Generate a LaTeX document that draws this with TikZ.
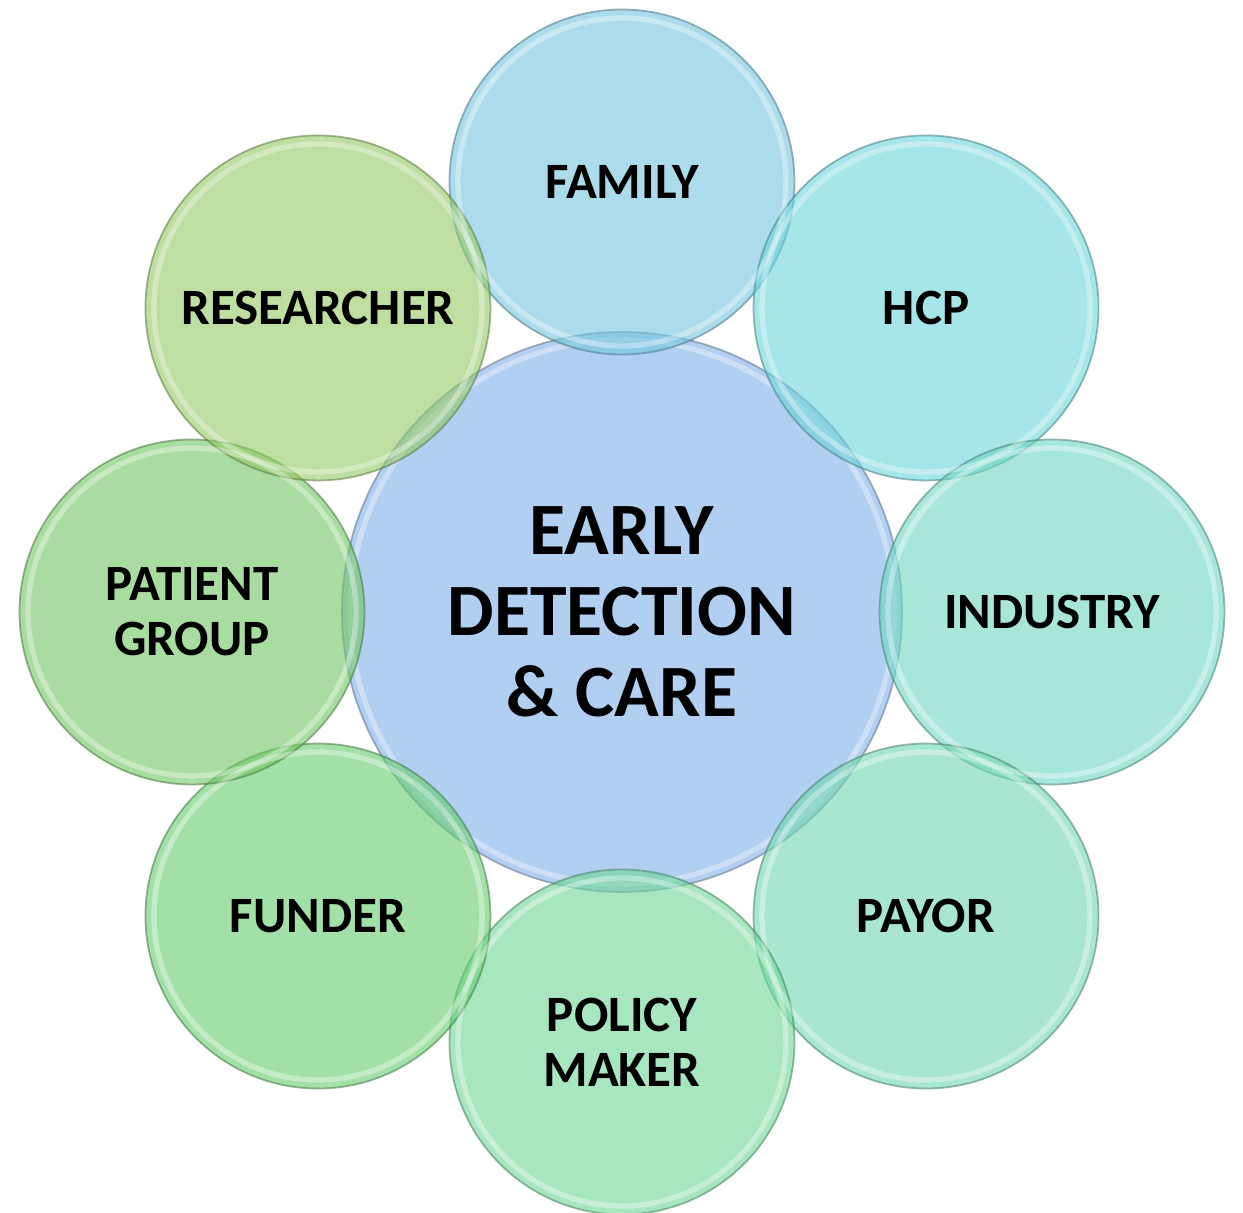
\documentclass[tikz,border=0pt]{standalone}
\usepackage{fontspec}
\setmainfont{Carlito}
\usepackage{xcolor}

\definecolor{hubblue}{RGB}{177,207,240}
\definecolor{famblue}{RGB}{117,197,223}
\definecolor{hcpcyan}{RGB}{107,211,217}
\definecolor{indteal}{RGB}{110,214,194}
\definecolor{paygreen}{RGB}{112,214,175}
\definecolor{polgreen}{RGB}{110,214,150}
\definecolor{fungreen}{RGB}{102,204,110}
\definecolor{patgreen}{RGB}{112,197,97}
\definecolor{resgreen}{RGB}{148,200,100}

\begin{document}
\begin{tikzpicture}[
        ring/.style={circle,minimum size=3.45cm,inner sep=0pt,align=center,
            fill opacity=0.6,text opacity=1,draw opacity=0.55,line width=0.5pt,
            font=\fontsize{14.5}{15.6}\selectfont\bfseries},
        hubring/.style={circle,minimum size=5.6cm,inner sep=0pt,align=center,
            fill=hubblue,draw=hubblue!60!black,draw opacity=0.6,line width=0.5pt,
            font=\fontsize{21}{23}\selectfont\bfseries},
        gloss/.style={white,opacity=0.35,line width=1.5pt}
    ]
        \useasboundingbox (-6.22,-6.01) rectangle (6.21,6.12);

        \node[hubring] (hub) at (0,0) {EARLY\\DETECTION\\\& CARE};
        \draw[gloss] (hub.center) circle (2.72);

        \node[ring,fill=famblue,draw=famblue!60!black]   (family)     at (90:4.30)  {FAMILY};
        \node[ring,fill=hcpcyan,draw=hcpcyan!60!black]   (hcp)        at (45:4.30)  {HCP};
        \node[ring,fill=indteal,draw=indteal!60!black]   (industry)   at (0:4.30)   {INDUSTRY};
        \node[ring,fill=paygreen,draw=paygreen!60!black] (payor)      at (-45:4.30) {PAYOR};
        \node[ring,fill=polgreen,draw=polgreen!60!black] (policy)     at (-90:4.30) {POLICY\\MAKER};
        \node[ring,fill=fungreen,draw=fungreen!60!black] (funder)     at (-135:4.30){FUNDER};
        \node[ring,fill=patgreen,draw=patgreen!60!black] (patient)    at (180:4.30) {PATIENT\\GROUP};
        \node[ring,fill=resgreen,draw=resgreen!60!black] (researcher) at (135:4.30) {RESEARCHER};

        \foreach \n in {family,hcp,industry,payor,policy,funder,patient,researcher}
            \draw[gloss] (\n.center) circle (1.64);
    \end{tikzpicture}
\end{document}
